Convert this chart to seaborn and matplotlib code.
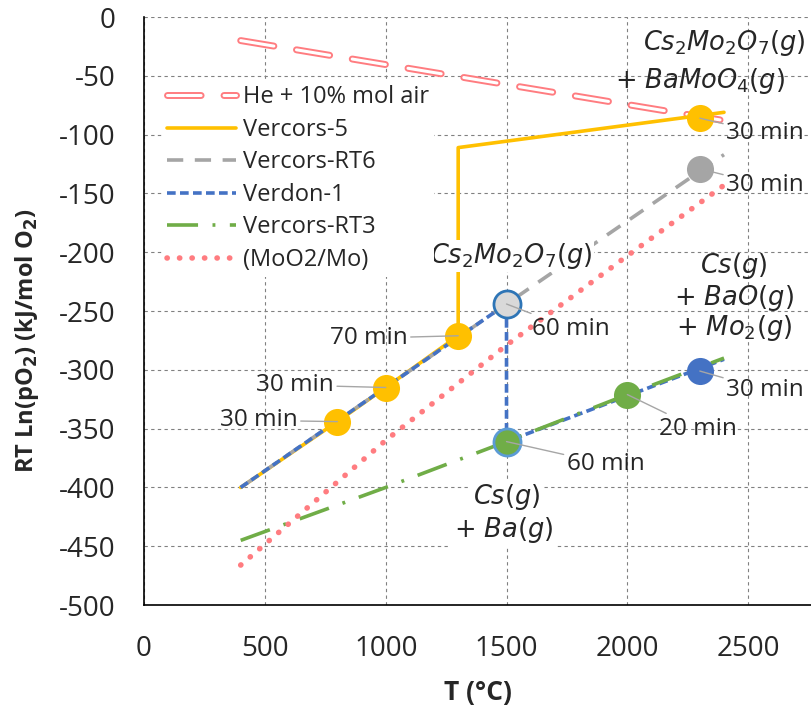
import matplotlib
matplotlib.use("Agg")
import matplotlib.pyplot as plt
import matplotlib.patheffects as pe
import seaborn as sns

# series: temperature (°C) vs RT ln(pO2) (kJ/mol O2)
he_T = [400, 2400]
he_G = [-20, -88]
v5_T = [400, 800, 1000, 1300, 1300, 2400]
v5_G = [-400, -344, -315, -271, -111, -81]
rt6_T = [400, 1500, 2400]
rt6_G = [-400, -244, -117]
v1_T = [400, 1500, 1500, 2400]
v1_G = [-400, -244, -361, -291]
rt3_T = [400, 1000, 1500, 2000, 2400]
rt3_G = [-445, -400, -361, -321, -290]
mo_T = [400, 1000, 1500, 2000, 2400]
mo_G = [-466, -360, -279, -203, -143]

series_names = ["He + 10% mol air", "Vercors-5", "Vercors-RT6",
                "Verdon-1", "Vercors-RT3", "(MoO2/Mo)"]

# sampled points with their durations
v5_pts_T = [800, 1000, 1300, 2300]
v5_pts_G = [-344, -315, -271, -86]
v5_pts_min = ["30 min", "30 min", "70 min", "30 min"]
rt6_pts_T = [2300]
rt6_pts_G = [-129]
rt6_pts_min = ["30 min"]
v1_pts_T = [1500, 2300]
v1_pts_G = [-244, -301]
v1_pts_min = ["60 min", "30 min"]
rt3_pts_T = [1500, 2000]
rt3_pts_G = [-361, -321]
rt3_pts_min = ["60 min", "20 min"]

x_ticks = [0, 500, 1000, 1500, 2000, 2500]
y_ticks = list(range(0, -501, -50))

sns.set_style("white")
plt.rcParams["font.family"] = ["Open Sans", "DejaVu Sans"]
plt.rcParams["mathtext.fontset"] = "dejavusans"
plt.rcParams["axes.unicode_minus"] = False

ORANGE = "#FFC000"
GREY = "#A5A5A5"
BLUE = "#4472C4"
GREEN = "#70AD47"
PINK = "#FF7C80"

fig = plt.figure(figsize=(8.11, 7.11), dpi=100)
ax = fig.add_axes([0.1776, 0.149, 0.8224, 0.827])

sns.lineplot(x=he_T, y=he_G, ax=ax, sort=False, estimator=None, color="white",
             lw=2.2, linestyle=(0, (11, 7.5)), dash_capstyle="round",
             path_effects=[pe.withStroke(linewidth=5, foreground=PINK)])
sns.lineplot(x=v5_T, y=v5_G, ax=ax, sort=False, estimator=None, color=ORANGE, lw=2.6)
sns.lineplot(x=rt6_T, y=rt6_G, ax=ax, sort=False, estimator=None, color=GREY,
             lw=2.6, linestyle=(0, (4.5, 3.2)))
sns.lineplot(x=v1_T, y=v1_G, ax=ax, sort=False, estimator=None, color=BLUE,
             lw=2.6, linestyle=(0, (2.4, 1.2)))
sns.lineplot(x=rt3_T, y=rt3_G, ax=ax, sort=False, estimator=None, color=GREEN,
             lw=2.6, linestyle=(0, (8.6, 4, 0.8, 4)))
sns.lineplot(x=mo_T, y=mo_G, ax=ax, sort=False, estimator=None, color=PINK,
             lw=4, linestyle=(0, (0.05, 2.2)), dash_capstyle="round")

line_handles = list(ax.lines)

# markers
msize = 380
sns.scatterplot(x=v5_pts_T, y=v5_pts_G, ax=ax, color=ORANGE, s=msize, linewidth=0, zorder=5)
sns.scatterplot(x=rt6_pts_T, y=rt6_pts_G, ax=ax, color=GREY, s=msize, linewidth=0, zorder=5)
sns.scatterplot(x=v1_pts_T[:1], y=v1_pts_G[:1], ax=ax, color="#D9D9D9", s=msize,
                edgecolor="#2E75B6", linewidth=2, zorder=5)
sns.scatterplot(x=v1_pts_T[1:], y=v1_pts_G[1:], ax=ax, color=BLUE, s=msize, linewidth=0, zorder=5)
sns.scatterplot(x=rt3_pts_T[:1], y=rt3_pts_G[:1], ax=ax, color=GREEN, s=msize,
                edgecolor="#5B9BD5", linewidth=2, zorder=5)
sns.scatterplot(x=rt3_pts_T[1:], y=rt3_pts_G[1:], ax=ax, color=GREEN, s=msize, linewidth=0, zorder=5)

# duration labels with leader lines
lead = dict(arrowstyle="-", color="#A6A6A6", lw=1, shrinkA=0, shrinkB=0)
lab_fs = 17.5
label_spots = [
    (v5_pts_T[0], v5_pts_G[0], v5_pts_min[0], (635, -343), "right"),
    (v5_pts_T[1], v5_pts_G[1], v5_pts_min[1], (785, -313), "right"),
    (v5_pts_T[2], v5_pts_G[2], v5_pts_min[2], (1090, -273), "right"),
    (v5_pts_T[3], v5_pts_G[3], v5_pts_min[3], (2410, -99), "left"),
    (rt6_pts_T[0], rt6_pts_G[0], rt6_pts_min[0], (2410, -143), "left"),
    (v1_pts_T[0], v1_pts_G[0], v1_pts_min[0], (1605, -265), "left"),
    (v1_pts_T[1], v1_pts_G[1], v1_pts_min[1], (2410, -317), "left"),
    (rt3_pts_T[0], rt3_pts_G[0], rt3_pts_min[0], (1750, -380), "left"),
    (rt3_pts_T[1], rt3_pts_G[1], rt3_pts_min[1], (2130, -350), "left"),
]
for px, py, txt, (tx, ty), ha in label_spots:
    ax.annotate(txt, xy=(px, py), xytext=(tx, ty), ha=ha, va="center",
                fontsize=lab_fs, color="#262626", arrowprops=lead, zorder=6)

# species labels
sp_fs = 18.5
ax.text(2400, -22, r"$\mathit{Cs_2Mo_2O_7(g)}$", ha="center", va="center", fontsize=sp_fs)
ax.text(2300, -54, r"$\mathit{+\ BaMoO_4(g)}$", ha="center", va="center", fontsize=sp_fs)
ax.text(1520, -203, r"$\mathit{Cs_2Mo_2O_7(g)}$", ha="center", va="center", fontsize=sp_fs,
        bbox=dict(facecolor="white", edgecolor="none", pad=1), zorder=4)
ax.text(2440, -212, r"$\mathit{Cs(g)}$", ha="center", va="center", fontsize=sp_fs)
ax.text(2440, -239, r"$\mathit{+\ BaO(g)}$", ha="center", va="center", fontsize=sp_fs)
ax.text(2440, -264, r"$\mathit{+\ Mo_2(g)}$", ha="center", va="center", fontsize=sp_fs)
ax.text(1500, -408, r"$\mathit{Cs(g)}$", ha="center", va="center", fontsize=sp_fs,
        bbox=dict(facecolor="white", edgecolor="none", pad=2), zorder=4)
ax.text(1490, -436, r"$\mathit{+\ Ba(g)}$", ha="center", va="center", fontsize=sp_fs,
        bbox=dict(facecolor="white", edgecolor="none", pad=2), zorder=4)

# axes
ax.set_xlim(0, 2760)
ax.set_ylim(-500, 0)
ax.set_xticks(x_ticks)
ax.set_yticks(y_ticks)
ax.tick_params(axis="both", labelsize=20, length=7.5, width=1, color="black",
               labelcolor="#262626", direction="out")
ax.tick_params(axis="x", pad=14)
ax.tick_params(axis="y", pad=13)
ax.grid(True, color="#808080", lw=0.8, linestyle=(0, (3, 3)))
ax.set_axisbelow(True)
for side in ["top", "right"]:
    ax.spines[side].set_visible(False)
for side in ["left", "bottom"]:
    ax.spines[side].set_color("black")
    ax.spines[side].set_linewidth(1.2)

ax.set_xlabel("T (°C)", fontsize=19, fontweight="bold")
ax.set_ylabel(r"RT Ln(pO$_\mathbf{2}$) (kJ/mol O$_\mathbf{2}$)", fontsize=17,
              fontweight="bold")
ax.xaxis.set_label_coords(0.5, -0.125)
ax.yaxis.set_label_coords(-0.154, 0.45)

leg = ax.legend(line_handles, series_names, loc="upper left",
                bbox_to_anchor=(0.01, 0.912), fontsize=17, handlelength=2.9,
                handletextpad=0.3, labelspacing=0.36, borderpad=0.2,
                frameon=True, facecolor="white", edgecolor="none", framealpha=1)

fig.savefig("out.png", dpi=100)
